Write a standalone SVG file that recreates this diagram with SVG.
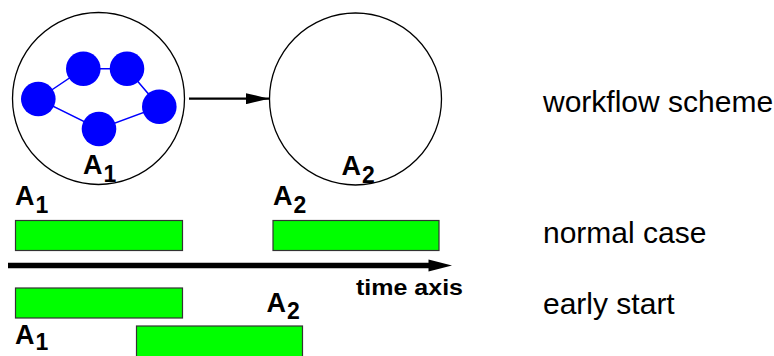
<svg xmlns="http://www.w3.org/2000/svg" width="774" height="356" viewBox="0 0 774 356">
<style>
.circ{fill:none;stroke:#000;stroke-width:1.3}
.node{fill:#0000ff}
.edge{stroke:#0000ff;stroke-width:1.5;fill:none}
.bar{fill:#00ff00;stroke:#333;stroke-width:1.2}
.lbl{font-family:"Liberation Sans",Arial,sans-serif;font-weight:bold;font-size:27px;fill:#000}
.sub{font-size:23px}
.side{font-family:"Liberation Sans",Arial,sans-serif;font-size:30px;fill:#000}
.axis{font-family:"Liberation Sans",Arial,sans-serif;font-weight:bold;font-size:22px;fill:#000}
</style>
<defs>
<marker id="ah" viewBox="0 0 23 11" refX="23" refY="5.5" markerWidth="23" markerHeight="11" markerUnits="userSpaceOnUse" orient="auto">
<path d="M0,0 L23,5.5 L0,11 Z" fill="#000"/>
</marker>
</defs>
<g id="activity-A1">
<circle class="circ" cx="98.5" cy="98.5" r="86"/>
<g id="subworkflow-edges">
<path class="edge" d="M38.3,99 L83.3,68.7 L127,68.7 L159.3,106.7 L99,129 Z"/>
</g>
<circle class="node" cx="38.3" cy="99" r="17.3"/>
<circle class="node" cx="83.3" cy="68.7" r="17.3"/>
<circle class="node" cx="127" cy="68.7" r="17.3"/>
<circle class="node" cx="159.3" cy="106.7" r="17.3"/>
<circle class="node" cx="99" cy="129" r="17.3"/>
<text class="lbl" x="83" y="174">A<tspan class="sub" dx="1" dy="8">1</tspan></text>
</g>
<g id="activity-A2">
<circle class="circ" cx="355.5" cy="99" r="86"/>
<text class="lbl" x="341.5" y="175">A<tspan class="sub" dx="1" dy="8">2</tspan></text>
</g>
<g id="connectors">
<line x1="189" y1="98.7" x2="269" y2="98.7" stroke="#000" stroke-width="2.2" marker-end="url(#ah)"/>
</g>
<g id="normal-case">
<text class="lbl" x="15" y="205">A<tspan class="sub" dx="1" dy="8">1</tspan></text>
<rect class="bar" x="15.5" y="220.5" width="167" height="30"/>
<text class="lbl" x="273" y="205">A<tspan class="sub" dx="1" dy="8">2</tspan></text>
<rect class="bar" x="273" y="220.5" width="166" height="30"/>
</g>
<g id="time-axis">
<line x1="8" y1="265.5" x2="432" y2="265.5" stroke="#000" stroke-width="5.5"/>
<path d="M428.5,259.5 L452,265.5 L428.5,271.5 Z" fill="#000"/>
<text class="axis" x="356" y="295" textLength="107" lengthAdjust="spacingAndGlyphs">time axis</text>
</g>
<g id="early-start">
<rect class="bar" x="15.5" y="288" width="167" height="30"/>
<text class="lbl" x="266.5" y="312">A<tspan class="sub" dx="1" dy="7">2</tspan></text>
<text class="lbl" x="15" y="344">A<tspan class="sub" dx="1" dy="6">1</tspan></text>
<rect class="bar" x="136.5" y="326" width="166" height="31"/>
</g>
<g id="row-labels">
<text class="side" x="543" y="112">workflow scheme</text>
<text class="side" x="543" y="243">normal case</text>
<text class="side" x="543" y="314">early start</text>
</g>
</svg>
